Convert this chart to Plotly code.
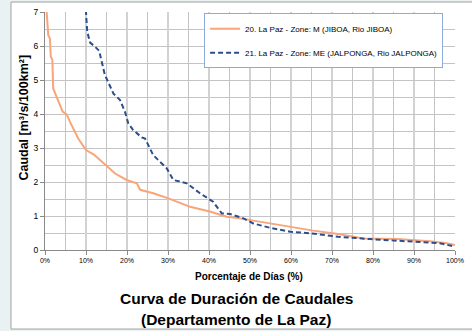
import plotly.graph_objects as go

# Percentage of days (%) and specific discharge [m3/s/100km2]
zone_m_x = [0, 0.4, 0.8, 1.2, 1.4, 1.8, 2.0, 2.85, 4.3, 5.3, 6.1, 8.1, 10, 12.0, 13.4, 15.0,
            17.1, 19.9, 22.4, 23.2, 26.4, 30.1, 35.4, 40.2, 44.3, 47.6, 50, 54.9, 59.8,
            65.4, 71.5, 77.6, 85.8, 93.9, 98, 100]
zone_m_y = [9, 7, 6.32, 6.22, 5.69, 5.59, 4.75, 4.51, 4.07, 3.99, 3.77, 3.28, 2.94, 2.8, 2.65, 2.5,
            2.25, 2.06, 1.96, 1.77, 1.67, 1.52, 1.27, 1.13, 0.98, 0.93, 0.88, 0.8, 0.69,
            0.57, 0.47, 0.34, 0.32, 0.26, 0.2, 0.15]

zone_me_x = [9.8, 10, 10.3, 11, 12.2, 13.2, 14.6, 16.7, 18.3, 19.5, 20.3, 21.5, 23.6, 24.4,
             26.4, 29.7, 31.3, 34.6, 37.8, 41, 43.1, 45.1, 48.4, 50.8, 55.3, 59.8, 66.3,
             71.5, 79.3, 88.2, 96.3, 100]
zone_me_y = [8, 7, 6.42, 6.1, 5.98, 5.86, 5.15, 4.6, 4.41, 4.07, 3.73, 3.53, 3.31, 3.28,
             2.79, 2.4, 2.06, 1.96, 1.67, 1.42, 1.08, 1.06, 0.93, 0.78, 0.64, 0.54, 0.47,
             0.39, 0.32, 0.26, 0.2, 0.1]

name_m = "20. La Paz - Zone: M (JIBOA, Rio JIBOA)"
name_me = "21. La Paz - Zone: ME (JALPONGA, Rio JALPONGA)"
title_1 = "Curva de Duración de Caudales"
title_2 = "(Departamento de La Paz)"
x_title = "Porcentaje de Días (%)"
y_title = "Caudal [m³/s/100km²]"

SANS = "Liberation Sans, Arial"

fig = go.Figure()
fig.add_trace(go.Scatter(x=zone_m_x, y=zone_m_y, mode="lines", name=name_m,
                         legendgroup="a",
                         line=dict(color="#f8a57a", width=2)))
fig.add_trace(go.Scatter(x=zone_me_x, y=zone_me_y, mode="lines", name=name_me,
                         legendgroup="b",
                         line=dict(color="#2b4f8c", width=2, dash="5px,3px")))

# chart frame
fig.add_shape(type="rect", xref="paper", yref="paper",
              x0=-0.083, x1=1.1, y0=-0.332, y1=1.042,
              fillcolor="white", line=dict(color="#a0a0a0", width=1), layer="below")

fig.add_annotation(text="<b>" + title_1 + "</b>", xref="paper", yref="paper", x=0.466, y=-0.202,
                   showarrow=False, font=dict(family=SANS, size=15.5, color="black"),
                   xanchor="center", yanchor="middle")
fig.add_annotation(text="<b>" + title_2 + "</b>", xref="paper", yref="paper", x=0.466, y=-0.294,
                   showarrow=False, font=dict(family=SANS, size=15.5, color="black"),
                   xanchor="center", yanchor="middle")
fig.add_annotation(text="<b>" + x_title + "</b>", xref="paper", yref="paper", x=0.498, y=-0.113,
                   showarrow=False, font=dict(family=SANS, size=10, color="black"),
                   xanchor="center", yanchor="middle")
fig.add_annotation(text="<b>" + y_title + "</b>", xref="paper", yref="paper", x=-0.052, y=0.555,
                   showarrow=False, textangle=-90, font=dict(family=SANS, size=12.5, color="black"),
                   xanchor="center", yanchor="middle")

fig.update_layout(
    width=472, height=331,
    margin=dict(l=45, r=17, t=12, b=81),
    paper_bgcolor="#eaf1f2",
    plot_bgcolor="rgba(0,0,0,0)",
    showlegend=True,
    legend=dict(x=0.388, y=0.995, xanchor="left", yanchor="top",
                bgcolor="white", bordercolor="#8eaad6", borderwidth=1,
                font=dict(family=SANS, size=8, color="black"),
                tracegroupgap=5, itemwidth=30),
    xaxis=dict(range=[0, 100], dtick=10, ticksuffix="%", showgrid=True, automargin=False,
               gridcolor="#d2d2d2", gridwidth=2,
               minor=dict(dtick=5, showgrid=True, gridcolor="#c4c4c4", gridwidth=1),
               showline=True, linecolor="#8a8a8a", linewidth=1,
               ticks="outside", ticklen=4, tickcolor="#8a8a8a",
               tickfont=dict(family=SANS, size=7, color="black"), zeroline=False),
    yaxis=dict(range=[0, 7], dtick=1, showgrid=True, gridcolor="#c4c4c4", gridwidth=1,
               automargin=False,
               minor=dict(dtick=0.5, showgrid=True, gridcolor="#c4c4c4", gridwidth=1),
               showline=True, linecolor="#8a8a8a", linewidth=1,
               ticks="outside", ticklen=4, tickcolor="#8a8a8a",
               tickfont=dict(family=SANS, size=8.5, color="black"), zeroline=False),
)

fig.write_html("out.html")
